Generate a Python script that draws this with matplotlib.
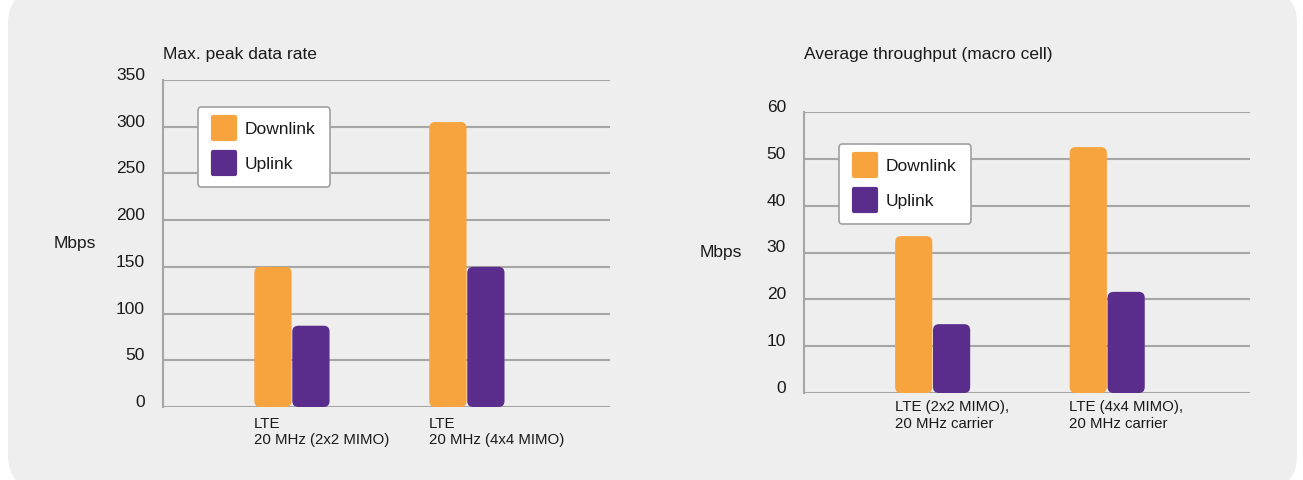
import matplotlib.pyplot as plt
from matplotlib.patches import FancyBboxPatch
from matplotlib.lines import Line2D
from matplotlib.markers import MarkerStyle
import numpy as np

plt.rcParams['font.family'] = ['Liberation Sans', 'DejaVu Sans']

series = ['Downlink', 'Uplink']
colors = ['#F7A43F', '#5A2D8C']

peak_cats = ['LTE\n20 MHz (2x2 MIMO)', 'LTE\n20 MHz (4x4 MIMO)']
peak_down = [150, 305]
peak_up = [87, 150]

avg_cats = ['LTE (2x2 MIMO),\n20 MHz carrier', 'LTE (4x4 MIMO),\n20 MHz carrier']
avg_down = [33.5, 52.5]
avg_up = [14.7, 21.6]

W, H = 1303, 480
fig = plt.figure(figsize=(W / 100, H / 100), dpi=100)
fig.patch.set_facecolor('white')

# light grey rounded panel behind everything
bg = FancyBboxPatch((8 / W, -8 / H), 1289 / W, 497 / H,
                    boxstyle='round,pad=0,rounding_size=%f' % (32 / W),
                    mutation_aspect=W / H,
                    transform=fig.transFigure, facecolor='#EEEEEE',
                    edgecolor='none', zorder=-10)
fig.patches.append(bg)

grid_c = '#A6A6A6'
text_c = '#1a1a1a'
bw = 0.217


def draw(ax, cats, down, up, ymax, step, title, title_dy, lab_off, leg_xy, ylab_x):
    x = np.arange(len(cats))
    ax.set_facecolor('none')
    ax.set_xlim(-0.737, 1.818)
    ax.set_ylim(0, ymax)
    ax.set_yticks(np.arange(0, ymax + 1, step))
    ax.yaxis.grid(True, color=grid_c, lw=1.5)
    ax.set_axisbelow(True)
    for s in ['top', 'right', 'bottom']:
        ax.spines[s].set_visible(False)
    ax.spines['left'].set_color(grid_c)
    ax.spines['left'].set_linewidth(1.5)
    ax.tick_params(left=False, bottom=False, labelbottom=False, length=0,
                   labelsize=12.5, labelcolor=text_c, pad=13)
    for lab in ax.get_yticklabels():
        lab.set_verticalalignment('baseline')
    ax.set_xticks([])

    fig.canvas.draw()
    bb = ax.get_window_extent()
    x0, x1 = ax.get_xlim()
    xpp = (x1 - x0) / bb.width
    ypp = ymax / bb.height
    for vals, off, c in [(down, -bw / 2, colors[0]), (up, bw / 2, colors[1])]:
        bars = ax.bar(x + off, vals, width=bw - 0.004, color=c, alpha=0)
        for b in bars:
            p = FancyBboxPatch((b.get_x(), 0), b.get_width(), b.get_height(),
                               boxstyle='round,pad=0,rounding_size=%f' % (6 * xpp),
                               mutation_aspect=ypp / xpp,
                               facecolor=c, edgecolor='none', zorder=3)
            ax.add_patch(p)

    for xi, cat in zip(x, cats):
        ax.annotate(cat, xy=(xi - bw, 0), xycoords=('data', 'axes fraction'),
                    xytext=(0, lab_off), textcoords='offset points',
                    ha='left', va='top', fontsize=10.8, color=text_c,
                    linespacing=1.25)

    ax.text(0, 1 + title_dy / bb.height, title, transform=ax.transAxes,
            fontsize=12.5, color=text_c, ha='left', va='baseline')
    ax.text(ylab_x, 0.5, 'Mbps', transform=ax.transAxes, fontsize=12.5,
            color=text_c, ha='left', va='center')

    handles = [Line2D([], [], linestyle='none',
                      marker=MarkerStyle('s', joinstyle='round'),
                      markersize=16, markerfacecolor=c, markeredgecolor=c,
                      markeredgewidth=3) for c in colors]
    leg = ax.legend(handles, series, loc='upper left', bbox_to_anchor=leg_xy,
                    borderaxespad=0, fontsize=12.5, frameon=True, fancybox=True,
                    labelspacing=1.15, handlelength=1.3, handletextpad=0.55,
                    borderpad=0.85)
    fr = leg.get_frame()
    fr.set_facecolor('white')
    fr.set_edgecolor('#A0A0A0')
    fr.set_linewidth(1.2)
    fr.set_alpha(1)
    for t in leg.get_texts():
        t.set_color(text_c)


ax1 = fig.add_axes([163 / W, 1 - 407 / H, 447 / W, 327 / H])
draw(ax1, peak_cats, peak_down, peak_up, 350, 50, 'Max. peak data rate', 21,
     -7, (0.078, 0.917), -0.245)

ax2 = fig.add_axes([804 / W, 1 - 393 / H, 446 / W, 281 / H])
draw(ax2, avg_cats, avg_down, avg_up, 60, 10, 'Average throughput (macro cell)', 53,
     -5, (0.078, 0.886), -0.235)

fig.savefig('out.png', dpi=100)
